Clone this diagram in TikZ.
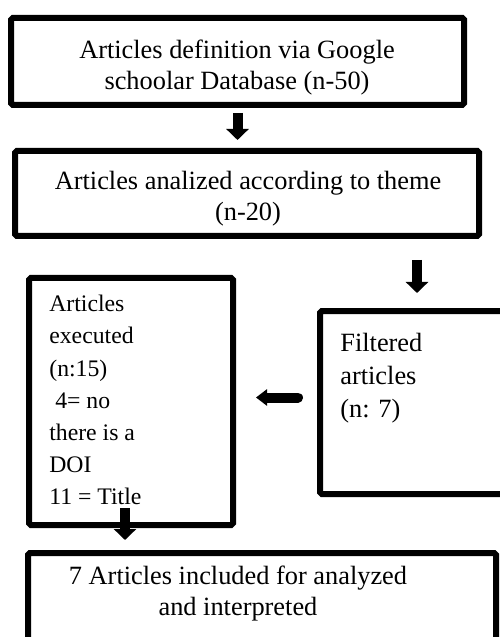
\documentclass[tikz,border=0pt]{standalone}
\usepackage{fontspec}
\setmainfont{Liberation Serif}
\tikzset{font={\fontsize{15pt}{17.6pt}\selectfont}}
\usetikzlibrary{
	calc,
	arrows.meta,
	positioning
	}
\tikzstyle{boite-std}=[draw, line width=0.12cm, rounded corners=1pt, inner sep=0pt]
\tikzstyle{texte-std}=[inner sep=0pt, anchor=north]
\tikzstyle{fleche-std}=[line width=0.2cm, -{Triangle[width=0.44cm,length=0.22cm]}]

\begin{document}
\begin{tikzpicture}
        \useasboundingbox (0,0) rectangle (10,-12.74);
        % boites
        \node[boite-std, minimum width=9.06cm, minimum height=1.74cm] (b1) at (4.75,-1.23) {};
        \node[boite-std, minimum width=9.28cm, minimum height=1.70cm] (b2) at (4.94,-3.87) {};
        \node[boite-std, minimum width=4.08cm, minimum height=4.94cm] (b3-g) at (2.62,-8.03) {};
        \node[boite-std, minimum width=3.88cm, minimum height=3.66cm] (b4-d) at (8.34,-8.05) {};
        \node[boite-std, minimum width=9.36cm, minimum height=2.94cm] (b5) at (5.24,-12.53) {};
        %
        \node[texte-std, align=center] (t1) at (4.74,-0.80) {Articles definition via Google\\schoolar Database (n-50)};
        \node[texte-std, align=center] (t2) at (4.96,-3.42) {Articles analized according to theme\\(n-20)};
        \node[texte-std, anchor=north west, align=left, font={\fontsize{13.5pt}{18.3pt}\selectfont}] (t3-g) at (0.98,-5.90)
            {Articles\\executed\\(n:15)\\\hspace*{0.25em}4= no\\there is a\\DOI\\11 = Title};
        \node[texte-std, anchor=north west, align=left, font={\fontsize{15pt}{18.7pt}\selectfont}] (t4-d) at (6.80,-6.66)
            {Filtered\\articles\\(n: 7)};
        \node[texte-std, align=center] (t5) at (4.76,-11.32) {7 Articles included for analyzed\\and interpreted};

        % fleches
        \coordinate (a3) at ([yshift=0.1cm]b4-d.west);
        \coordinate (a4) at ([xshift=-0.12cm]b3-g.south);
        \draw[fleche-std, shorten <=0.1cm, shorten >=0.16cm] (b1.south) -- (b1.south |- b2.north);
        \draw[fleche-std, shorten <=0.42cm, shorten >=0.30cm] (b4-d.north |- b2.south) -- (b4-d.north);
        \draw[line width=0.2cm, line cap=round, -{Triangle[width=0.32cm,length=0.22cm]}, shorten <=0.38cm, shorten >=0.40cm] (a3) -- (a3 -| b3-g.east);
        \draw[fleche-std, shorten >=0.2cm] ([yshift=0.4cm]a4) -- (a4 |- b5.north);
\end{tikzpicture}
\end{document}
